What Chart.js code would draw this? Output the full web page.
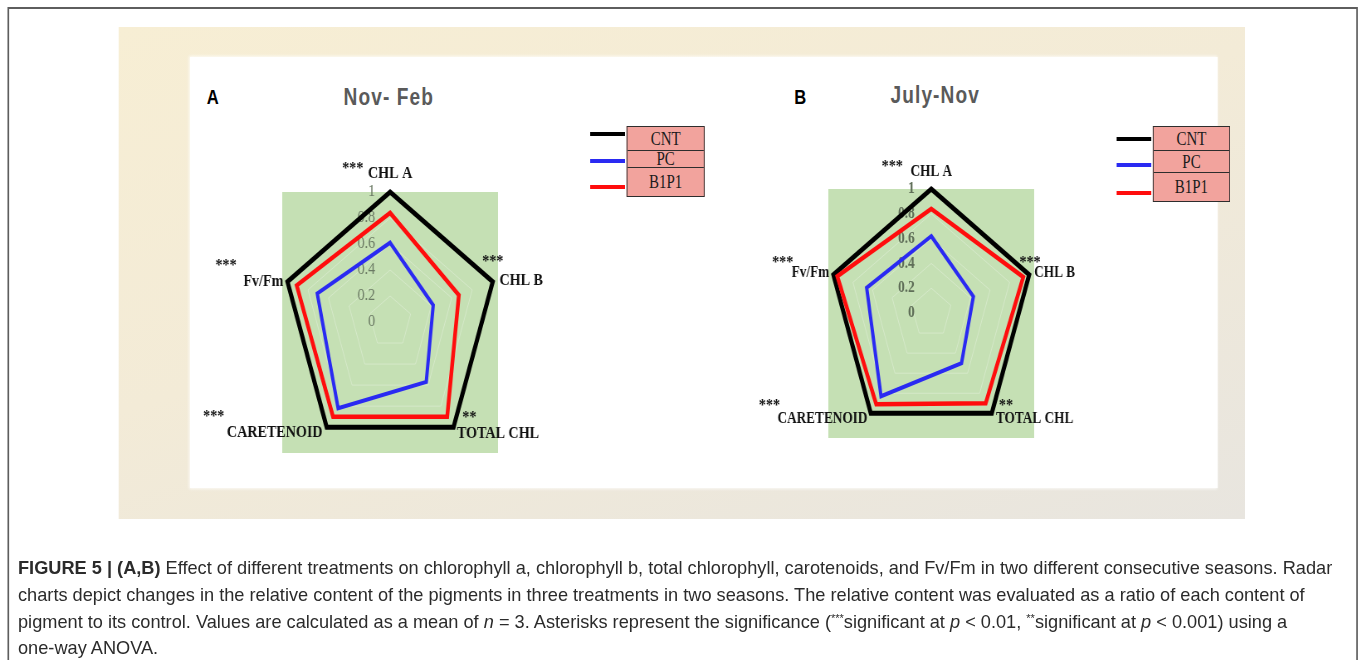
<!DOCTYPE html>
<html>
<head>
<meta charset="utf-8">
<script src="https://cdn.jsdelivr.net/npm/chart.js@4.4.0/dist/chart.umd.min.js"></script>
<style>
  html, body { margin: 0; padding: 0; overflow: hidden; background: #fff; font-family: 'Liberation Sans', Arial, sans-serif; }
  /* el panel de la figura va algo comprimido en horizontal */
  #pagina {
    position: absolute; left: 0; top: 0; width: 1642px; height: 660px;
    transform: scaleX(0.83); transform-origin: 0 0;
  }
  .marco { position: absolute; left: 9px; top: 7px; width: 1623px; height: 720px; border: 2px solid #5e5e5e; }
  .beige { position: absolute; left: 143px; top: 27px; width: 1357px; height: 492px;
           background: linear-gradient(165deg, #f7eed4 0%, #f3ebd7 45%, #e8e5df 100%); }
  .blanco { position: absolute; left: 229px; top: 57px; width: 1238px; height: 431px; background: #fff;
            box-shadow: 0 0 3px 1px rgba(255,255,255,0.8); }
  .letra { position: absolute; font-weight: bold; font-size: 20px; color: #000; line-height: 20px; }
  .titulo { position: absolute; font-weight: bold; font-size: 23px; color: #5a5a5a; letter-spacing: 1.3px; line-height: 24px; }
  canvas { position: absolute; }
  .leyenda { position: absolute; }
  .caja { position: absolute; background: #f2a39d; border: 1.5px solid #2d2d2d; box-sizing: border-box; }
  .fila { box-sizing: border-box; border-bottom: 1.5px solid #2d2d2d; text-align: center;
          font-family: 'Liberation Serif', 'Times New Roman', serif; font-size: 18px; color: #1b1b1b; }
  .fila:last-child { border-bottom: none; }
  .linea { position: absolute; height: 4px; }
  .pie { position: absolute; left: 18px; top: 555px; font-size: 18.2px; line-height: 26.8px; color: #2b2b2b; white-space: nowrap; }
  .pie sup { font-size: 11px; vertical-align: 6px; line-height: 0; }
</style>
</head>
<body>
<div id="pagina">
  <div class="marco"></div>
  <div class="beige"></div>
  <div class="blanco"></div>

  <div class="letra" style="left:249px; top:87px;">A</div>
  <div class="titulo" style="left:414px; top:85px;">Nov- Feb</div>
  <div class="letra" style="left:957px; top:87px;">B</div>
  <div class="titulo" style="left:1073px; top:83px;">July-Nov</div>

  <canvas id="radarNovFeb" width="480" height="330" style="left:230px; top:142px;"></canvas>
  <canvas id="radarJulNov" width="468" height="318" style="left:888px; top:139px;"></canvas>

  <div id="leyendaA" class="leyenda"></div>
  <div id="leyendaB" class="leyenda"></div>
</div>

<div class="pie">
  <b>FIGURE 5 | (A,B)</b> Effect of different treatments on chlorophyll a, chlorophyll b, total chlorophyll, carotenoids, and Fv/Fm in two different consecutive seasons. Radar<br>
  charts depict changes in the relative content of the pigments in three treatments in two seasons. The relative content was evaluated as a ratio of each content of<br>
  pigment to its control. Values are calculated as a mean of <i>n</i> = 3. Asterisks represent the significance (<sup>***</sup>significant at <i>p</i> &lt; 0.01, <sup>**</sup>significant at <i>p</i> &lt; 0.001) using a<br>
  one-way ANOVA.
</div>

<script>
// Datos
const categorias = ['CHL A', 'CHL B', 'TOTAL CHL', 'CARETENOID', 'Fv/Fm'];
const asteriscos = ['***', '***', '**', '***', '***'];
const tratamientos = ['CNT', 'PC', 'B1P1'];
const coloresTratamiento = ['#000000', '#2a2af2', '#ff0d0d'];

// Nov- Feb
const cntNovFeb = [1, 1, 1, 1, 1];
const pcNovFeb = [0.61, 0.42, 0.57, 0.82, 0.71];
const b1p1NovFeb = [0.84, 0.67, 0.90, 0.90, 0.91];

// July-Nov
const cntJulNov = [1, 1, 1, 1, 1];
const pcJulNov = [0.62, 0.43, 0.50, 0.83, 0.66];
const b1p1JulNov = [0.84, 0.94, 0.90, 0.91, 0.96];

// Marcas del eje radial
const marcasEje = [0, 0.2, 0.4, 0.6, 0.8, 1];
const etiquetasEje = ['0', '0.2', '0.4', '0.6', '0.8', '1'];

// Plugin: fondo verde, numeros del eje y etiquetas con asteriscos
const fondoYEtiquetas = {
    id: 'fondoYEtiquetas',
    beforeDraw(chart, args, opts) {
        const s = chart.scales.r;
        const ctx = chart.ctx;
        const r = s.drawingArea;
        ctx.save();
        ctx.fillStyle = '#c5e0b4';
        ctx.fillRect(s.xCenter - r, s.yCenter - r, 2 * r, 2 * r + 1);
        ctx.restore();
    },
    beforeDatasetsDraw(chart, args, opts) {
        const s = chart.scales.r;
        const ctx = chart.ctx;
        ctx.save();
        ctx.font = opts.fuenteEje;
        ctx.fillStyle = opts.colorEje;
        ctx.textAlign = 'right';
        ctx.textBaseline = 'middle';
        marcasEje.forEach((v, i) => {
            const y = s.yCenter - s.getDistanceFromCenterForValue(v);
            ctx.fillText(etiquetasEje[i], s.xCenter + opts.despEje, y);
        });
        ctx.restore();
    },
    afterDatasetsDraw(chart, args, opts) {
        const s = chart.scales.r;
        const ctx = chart.ctx;
        ctx.save();
        ctx.fillStyle = '#111';
        ctx.textBaseline = 'middle';
        categorias.forEach((cat, i) => {
            const p = s.getPointPosition(i, s.drawingArea);
            const o = opts.posiciones[i];
            ctx.font = opts.fuenteEtiqueta;
            ctx.textAlign = o.alin;
            ctx.fillText(cat, p.x + o.dx, p.y + o.dy);
            ctx.font = opts.fuenteAsterisco;
            ctx.textAlign = 'center';
            ctx.fillText(asteriscos[i], p.x + o.sx, p.y + o.sy);
        });
        ctx.restore();
    }
};

function crearRadar(id, cnt, pc, b1p1, extra) {
    const series = [cnt, pc, b1p1];
    const anchos = [5, 4, 4.5];
    new Chart(document.getElementById(id), {
        type: 'radar',
        data: {
            labels: categorias,
            datasets: tratamientos.map((t, i) => ({
                label: t,
                data: series[i],
                borderColor: coloresTratamiento[i],
                borderWidth: anchos[i],
                backgroundColor: 'transparent',
                fill: false,
                pointRadius: 0,
                tension: 0,
                order: i === 0 ? 3 : (i === 1 ? 2 : 1)
            }))
        },
        options: {
            responsive: false,
            animation: false,
            events: [],
            layout: { padding: { left: 110, right: 110, top: 50, bottom: 20 } },
            scales: {
                r: {
                    min: 0,
                    max: 1,
                    ticks: { display: false, stepSize: 0.2 },
                    grid: { color: 'rgba(255,255,255,0.28)', lineWidth: 1 },
                    angleLines: { display: false },
                    pointLabels: { display: false }
                }
            },
            plugins: {
                legend: { display: false },
                tooltip: { enabled: false },
                fondoYEtiquetas: extra
            }
        },
        plugins: [fondoYEtiquetas]
    });
}

crearRadar('radarNovFeb', cntNovFeb, pcNovFeb, b1p1NovFeb, {
    fuenteEje: '17px "Liberation Serif", serif',
    colorEje: '#6a7963',
    despEje: -18,
    fuenteEtiqueta: 'bold 17px "Liberation Serif", serif',
    fuenteAsterisco: 'bold 17px "Liberation Serif", serif',
    posiciones: [
        { dx: 0, dy: -18, alin: 'center', sx: -45, sy: -23 },
        { dx: 8, dy: -1, alin: 'left', sx: 0, sy: -20 },
        { dx: 4, dy: 6, alin: 'left', sx: 19, sy: -10 },
        { dx: -5, dy: 5, alin: 'right', sx: -136, sy: -11 },
        { dx: -5, dy: 0, alin: 'right', sx: -74, sy: -16 }
    ]
});

crearRadar('radarJulNov', cntJulNov, pcJulNov, b1p1JulNov, {
    fuenteEje: 'bold 16px "Liberation Serif", serif',
    colorEje: '#5f6e58',
    despEje: -20,
    fuenteEtiqueta: 'bold 16px "Liberation Serif", serif',
    fuenteAsterisco: 'bold 17px "Liberation Serif", serif',
    posiciones: [
        { dx: 0, dy: -17, alin: 'center', sx: -47, sy: -22 },
        { dx: 6, dy: -2, alin: 'left', sx: 1, sy: -12 },
        { dx: 5, dy: 6, alin: 'left', sx: 17, sy: -8 },
        { dx: -4, dy: 6, alin: 'right', sx: -122, sy: -8 },
        { dx: -5, dy: -2, alin: 'right', sx: -61, sy: -12 }
    ]
});

// Leyendas (caja rosa con las lineas a la izquierda)
function crearLeyenda(id, izq, arriba, ancho, altosFila, lineasY) {
    const cont = document.getElementById(id);
    const caja = document.createElement('div');
    caja.className = 'caja';
    caja.style.left = izq + 'px';
    caja.style.top = arriba + 'px';
    caja.style.width = ancho + 'px';
    tratamientos.forEach((t, i) => {
        const fila = document.createElement('div');
        fila.className = 'fila';
        fila.style.height = altosFila[i] + 'px';
        fila.style.lineHeight = altosFila[i] + 'px';
        fila.textContent = t;
        caja.appendChild(fila);

        const linea = document.createElement('div');
        linea.className = 'linea';
        linea.style.left = (izq - 44) + 'px';
        linea.style.width = '42px';
        linea.style.top = (lineasY[i] - 2) + 'px';
        linea.style.background = coloresTratamiento[i];
        cont.appendChild(linea);
    });
    cont.appendChild(caja);
}

crearLeyenda('leyendaA', 755, 126, 94, [24, 17, 28], [134, 161, 187]);
crearLeyenda('leyendaB', 1389, 126, 93, [24, 22, 28], [139, 165, 193]);
</script>
</body>
</html>
